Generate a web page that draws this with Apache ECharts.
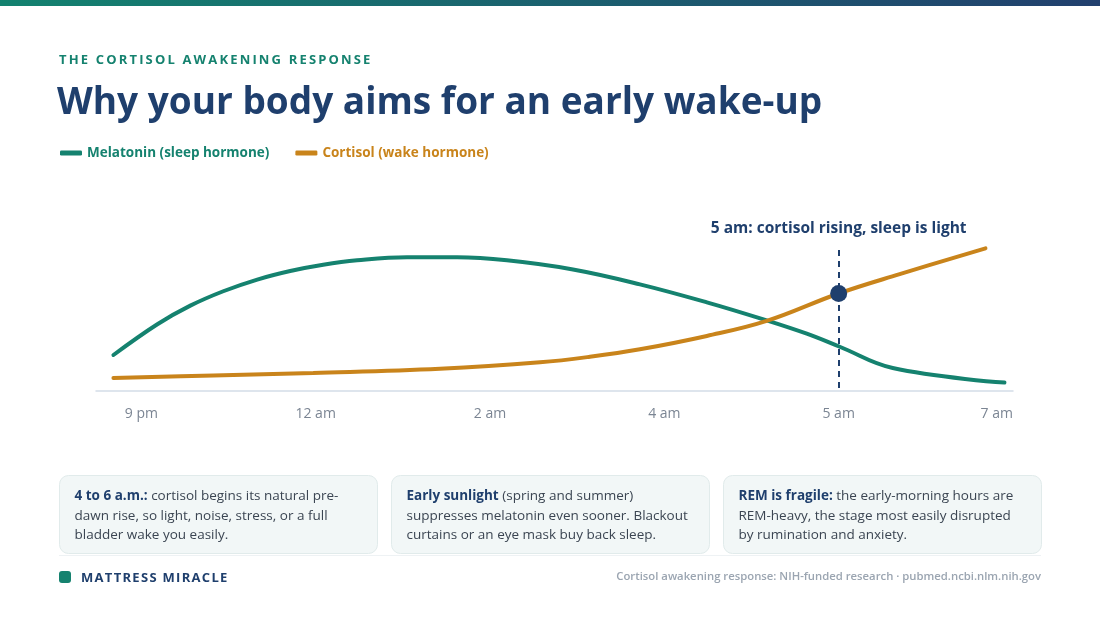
<!DOCTYPE html>
<html>
<head>
<meta charset="utf-8">
<script src="https://cdn.jsdelivr.net/npm/echarts@6/dist/echarts.min.js"></script>
<style>
  html, body { margin: 0; padding: 0; background: #ffffff; }
  #chart { width: 1100px; height: 619px; }
</style>
</head>
<body>
<div id="chart"></div>
<script>
// x positions are in "label slots": 0 = 9 pm, 1 = 12 am, ... 5 = 7 am
const hourSlots = [0, 1, 2, 3, 4, 5];
const hourLabels = ['9 pm', '12 am', '2 am', '4 am', '5 am', '7 am'];

// melatonin (relative level, 0-100)
const melatoninX = [-0.16, 0.092, 0.281, 0.47, 0.665, 0.854, 1.043, 1.238, 1.524, 1.811, 2.097, 2.476, 2.86, 3.244, 3.564, 3.817, 4.006, 4.31, 4.951];
const melatoninY = [24, 44.5, 56.9, 66.5, 74.3, 80, 84.2, 87.1, 89.1, 89.1, 87.1, 81, 71.1, 59.1, 47.9, 38.2, 29.5, 15.3, 5.6];

// cortisol (relative level, 0-100)
const cortisolX = [-0.16, 0.413, 0.986, 1.713, 2.287, 2.573, 2.86, 3.244, 3.587, 4.0, 4.35, 4.842];
const cortisolY = [8.7, 10.3, 12, 14.8, 19.1, 22.8, 27.8, 36.7, 46.7, 65, 77.9, 95.1];

// 5 am marker
const markerSlot = 4;
const markerValue = 65;
const markerLabel = '5 am: cortisol rising, sleep is light';

const cardNotes = [
  { bold: '4 to 6 a.m.:', lines: [' cortisol begins its natural pre-', 'dawn rise, so light, noise, stress, or a full', 'bladder wake you easily.'] },
  { bold: 'Early sunlight', lines: [' (spring and summer)', 'suppresses melatonin even sooner. Blackout', 'curtains or an eye mask buy back sleep.'] },
  { bold: 'REM is fragile:', lines: [' the early-morning hours are', 'REM-heavy, the stage most easily disrupted', 'by rumination and anxiety.'] }
];

const TEAL = '#15826f';
const ORANGE = '#c9841b';
const NAVY = '#1f3f6d';
const FONT = '"Open Sans", "Noto Sans", sans-serif';

const spaced = (s, gap) => s.split('').join(gap);

const chart = echarts.init(document.getElementById('chart'));

const cardGraphics = cardNotes.map((c, i) => {
  const x = 59 + i * 332;
  return {
    type: 'group',
    left: x,
    top: 475,
    children: [
      {
        type: 'rect',
        shape: { x: 0, y: 0, width: 318, height: 78, r: 9 },
        style: { fill: '#f2f7f7', stroke: '#e1ebeb', lineWidth: 1 }
      },
      {
        type: 'text',
        x: 15,
        y: 11,
        style: {
          text: '{b|' + c.bold + '}' + c.lines[0] + '\n' + c.lines[1] + '\n' + c.lines[2],
          font: '13.5px ' + FONT,
          fill: '#3b4552',
          lineHeight: 19.5,
          rich: {
            b: { fontWeight: 'bold', fill: NAVY, fontSize: 13.5, fontFamily: FONT, lineHeight: 19.5 }
          }
        }
      }
    ]
  };
});

const option = {
  backgroundColor: '#ffffff',
  animation: false,
  textStyle: { fontFamily: FONT },
  grid: { left: 96, right: 87, top: 241, bottom: 228 },
  legend: {
    left: 55,
    top: 141,
    icon: 'roundRect',
    itemWidth: 22,
    itemHeight: 5,
    itemGap: 26,
    textStyle: { fontSize: 13.5, fontWeight: 'bold', fontFamily: FONT },
    data: [
      { name: 'Melatonin (sleep hormone)', textStyle: { color: TEAL } },
      { name: 'Cortisol (wake hormone)', textStyle: { color: ORANGE } }
    ]
  },
  xAxis: {
    type: 'value',
    min: -0.26,
    max: 5,
    axisLine: { show: true, lineStyle: { color: '#d4dde8', width: 1.5 } },
    axisTick: { show: false },
    splitLine: { show: false },
    axisLabel: {
      customValues: hourSlots,
      formatter: v => hourLabels[hourSlots.indexOf(v)],
      color: '#7b8593',
      fontSize: 14,
      margin: 16,
      alignMaxLabel: 'right'
    }
  },
  yAxis: { type: 'value', min: 0, max: 100, show: false },
  series: [
    {
      name: 'Melatonin (sleep hormone)',
      type: 'line',
      data: melatoninX.map((x, i) => [x, melatoninY[i]]),
      smooth: 0.4,
      symbol: 'none',
      color: TEAL,
      lineStyle: { width: 4, color: TEAL, cap: 'round' }
    },
    {
      name: 'Cortisol (wake hormone)',
      type: 'line',
      data: cortisolX.map((x, i) => [x, cortisolY[i]]),
      smooth: 0.4,
      symbol: 'none',
      color: ORANGE,
      lineStyle: { width: 4, color: ORANGE, cap: 'round' },
      markLine: {
        silent: true,
        symbol: 'none',
        lineStyle: { color: NAVY, width: 2, type: [6, 5] },
        label: {
          show: true,
          position: 'end',
          distance: 13,
          formatter: markerLabel,
          color: NAVY,
          fontSize: 15.5,
          fontWeight: 'bold',
          fontFamily: FONT
        },
        data: [[{ coord: [markerSlot, 2] }, { coord: [markerSlot, 94] }]]
      },
      markPoint: {
        silent: true,
        symbol: 'circle',
        symbolSize: 17,
        itemStyle: { color: NAVY },
        label: { show: false },
        data: [{ coord: [markerSlot, markerValue] }]
      }
    }
  ],
  graphic: [
    {
      type: 'rect',
      left: 0,
      top: 0,
      shape: { width: 1100, height: 6 },
      style: {
        fill: new echarts.graphic.LinearGradient(0, 0, 1, 0, [
          { offset: 0, color: '#13826f' },
          { offset: 1, color: '#22406e' }
        ])
      }
    },
    {
      type: 'text',
      left: 59,
      top: 54,
      style: { text: spaced('THE CORTISOL AWAKENING RESPONSE', '\u2009'), font: 'bold 13px ' + FONT, fill: TEAL }
    },
    {
      type: 'text',
      left: 57,
      top: 85,
      style: { text: 'Why your body aims for an early wake-up', font: 'bold 37px ' + FONT, fill: NAVY }
    },
    {
      type: 'rect',
      left: 59,
      top: 555,
      shape: { width: 982, height: 1 },
      style: { fill: '#eef2f4' }
    },
    ...cardGraphics,
    {
      type: 'rect',
      left: 59,
      top: 571,
      shape: { width: 12, height: 12, r: 3 },
      style: { fill: TEAL }
    },
    {
      type: 'text',
      left: 81,
      top: 572,
      style: { text: spaced('MATTRESS MIRACLE', '\u200a'), font: 'bold 13px ' + FONT, fill: NAVY }
    },
    {
      type: 'text',
      right: 59,
      top: 571,
      style: { text: 'Cortisol awakening response: NIH-funded research \u00b7 pubmed.ncbi.nlm.nih.gov', font: '600 11.3px ' + FONT, fill: '#9ba5b1' }
    }
  ]
};

chart.setOption(option);
</script>
</body>
</html>
